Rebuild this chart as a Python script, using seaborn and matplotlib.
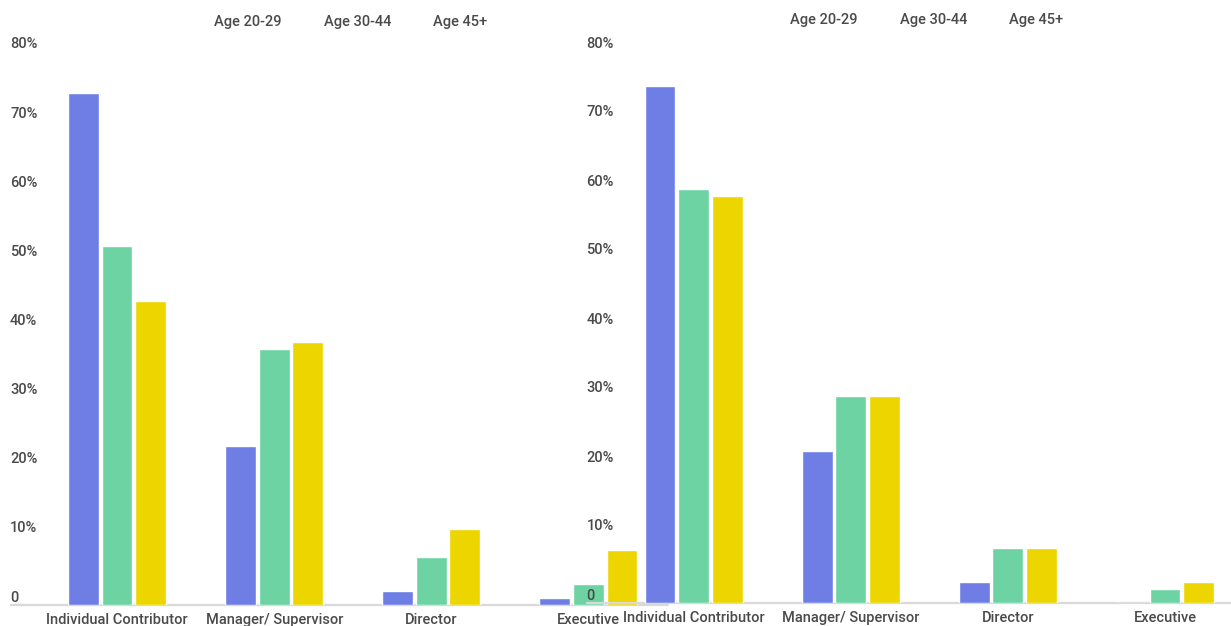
import matplotlib
matplotlib.use("Agg")
import matplotlib.pyplot as plt
from matplotlib.transforms import ScaledTranslation
import seaborn as sns
import pandas as pd

roles = ["Individual Contributor", "Manager/ Supervisor", "Director", "Executive"]
ages = ["Age 20-29", "Age 30-44", "Age 45+"]

left_20_29 = [74, 23, 2, 1]
left_30_44 = [52, 37, 7, 3]
left_45_plus = [44, 38, 11, 8]

right_20_29 = [75, 22, 3, 0]
right_30_44 = [60, 30, 8, 2]
right_45_plus = [59, 30, 8, 3]

y_ticks = [0, 10, 20, 30, 40, 50, 60, 70, 80]
y_tick_labels = ["0", "10%", "20%", "30%", "40%", "50%", "60%", "70%", "80%"]

colors = ["#6E7EE5", "#6DD3A3", "#EDD500"]
text_color = "#4a4a4a"
line_color = "#d9d9d9"
FS = 10.5
FW = "medium"


def make_df(a, b, c):
    rows = []
    for age, vals in zip(ages, [a, b, c]):
        for r, v in zip(roles, vals):
            rows.append({"role": r, "age": age, "pct": v})
    return pd.DataFrame(rows)


sns.set_theme(style="white")
plt.rcParams["font.family"] = ["Roboto", "DejaVu Sans"]

W, H = 1231, 626
fig = plt.figure(figsize=(W / 100, H / 100), dpi=100)


def panel(ax_left_px, zero_y_px, top_y_px, df, legend_x_px, legend_y_px, line_x0, line_x1, xpad):
    width_px = 628.5
    ax = fig.add_axes([ax_left_px / W, (H - zero_y_px) / H, width_px / W,
                       (zero_y_px - top_y_px) / H])
    ax.patch.set_alpha(0)
    sns.barplot(data=df, x="role", y="pct", hue="age", order=roles, hue_order=ages,
                palette=colors, saturation=1, width=0.64, gap=0.08, ax=ax,
                errorbar=None, zorder=2)
    ax.set_xlim(-0.5, 3.5)
    ax.set_ylim(0, 80)
    ax.set_xlabel("")
    ax.set_ylabel("")
    for s in ax.spines.values():
        s.set_visible(False)
    ax.set_yticks(y_ticks)
    ax.set_yticklabels(y_tick_labels)
    ax.tick_params(axis="y", length=0, pad=28.5 * 0.72,
                   labelsize=FS, labelcolor=text_color)
    ax.tick_params(axis="x", length=0, pad=xpad, labelsize=FS, labelcolor=text_color)
    off = ScaledTranslation(0, 9 / 100, fig.dpi_scale_trans)
    for lab in ax.get_yticklabels():
        lab.set_horizontalalignment("left")
        lab.set_fontweight(FW)
        lab.set_transform(lab.get_transform() + off)
    for lab in ax.get_xticklabels():
        lab.set_fontweight(FW)
    # baseline
    xmin = (line_x0 - ax_left_px) / width_px
    xmax = (line_x1 - ax_left_px) / width_px
    ax.axhline(0, xmin=xmin, xmax=xmax, color=line_color, lw=1.6, clip_on=False, zorder=1)
    # legend (text only)
    old = ax.get_legend()
    handles = old.legend_handles
    labels = [t.get_text() for t in old.get_texts()]
    old.remove()
    leg = ax.legend(handles, labels, ncol=3, loc="center left",
                    bbox_to_anchor=(legend_x_px / W, 1 - legend_y_px / H),
                    bbox_transform=fig.transFigure, frameon=False,
                    handlelength=0, handletextpad=0, columnspacing=2.9,
                    borderpad=0, borderaxespad=0,
                    prop={"size": FS, "weight": FW})
    for h in leg.legend_handles:
        h.set_visible(False)
    for t in leg.get_texts():
        t.set_color(text_color)
    return ax


panel(38.5, 605, 52, make_df(left_20_29, left_30_44, left_45_plus), 214, 22, 11, 668, 6.0)
panel(615.0, 603, 51, make_df(right_20_29, right_30_44, right_45_plus), 790, 20, 587, 1240, 6.0)

fig.savefig("out.png", dpi=100)
